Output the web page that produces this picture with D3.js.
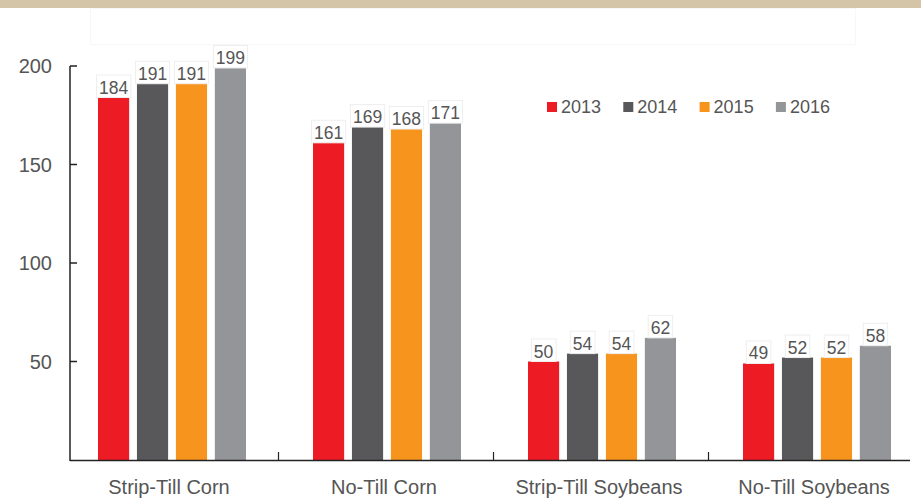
<!DOCTYPE html>
<html>
<head>
<meta charset="utf-8">
<script src="https://cdn.jsdelivr.net/npm/d3@7"></script>
<style>
  html, body { margin: 0; padding: 0; background: #fff; }
  #chart { width: 921px; height: 498px; }
</style>
</head>
<body>
<div id="chart"></div>
<script>
// yield data (bu/acre)
const categories = ['Strip-Till Corn', 'No-Till Corn', 'Strip-Till Soybeans', 'No-Till Soybeans'];
const years = ['2013', '2014', '2015', '2016'];
const yield2013 = [184, 161, 50, 49];
const yield2014 = [191, 169, 54, 52];
const yield2015 = [191, 168, 54, 52];
const yield2016 = [199, 171, 62, 58];
const yTicks = [50, 100, 150, 200];
const colors = ['#ed1c24', '#58585a', '#f7941d', '#939598'];

const seriesValues = [yield2013, yield2014, yield2015, yield2016];

const WIDTH = 921;
const HEIGHT = 498;
const FONT = '"Liberation Sans", Arial, Helvetica, sans-serif';
const TEXT_COLOR = '#555';

const svg = d3
  .select('#chart')
  .append('svg')
  .attr('width', WIDTH)
  .attr('height', HEIGHT);

// top band
svg.append('rect').attr('x', 0).attr('y', 0).attr('width', WIDTH).attr('height', 8).attr('fill', '#d4c5a8');
svg
  .append('rect')
  .attr('x', 90.5)
  .attr('y', 8.5)
  .attr('width', 765)
  .attr('height', 36)
  .attr('fill', 'none')
  .attr('stroke', '#f7f7f7');

const x = d3.scaleBand().domain(categories).range([64.5, 924.5]).paddingInner(0);
const xInner = d3
  .scaleBand()
  .domain(years)
  .range([33.5, x.bandwidth() - 33.5])
  .paddingInner(0.2);
const y = d3.scaleLinear().domain([0, 200]).range([460, 66]);

// bars
const groups = svg
  .append('g')
  .selectAll('g')
  .data(categories)
  .enter()
  .append('g')
  .attr('transform', (d) => 'translate(' + x(d) + ',0)');

groups
  .selectAll('rect')
  .data((d, i) => years.map((yr, j) => ({ year: yr, value: seriesValues[j][i], color: colors[j] })))
  .enter()
  .append('rect')
  .attr('x', (d) => xInner(d.year))
  .attr('y', (d) => y(d.value))
  .attr('width', xInner.bandwidth())
  .attr('height', (d) => y(0) - y(d.value))
  .attr('fill', (d) => d.color);

// value labels with faint boxes
groups.each(function (cat, i) {
  const g = d3.select(this);
  years.forEach((yr, j) => {
    const v = seriesValues[j][i];
    const cx = xInner(yr) + xInner.bandwidth() / 2;
    const t = g
      .append('text')
      .attr('x', cx)
      .attr('y', y(v) - 4)
      .attr('text-anchor', 'middle')
      .attr('font-family', FONT)
      .attr('font-size', 17.5)
      .attr('fill', TEXT_COLOR)
      .text(v);
    const b = t.node().getBBox();
    g.insert('rect', 'text')
      .attr('x', b.x - 2.5)
      .attr('y', b.y - 2.5)
      .attr('width', b.width + 5)
      .attr('height', y(v) - b.y + 2.5)
      .attr('fill', 'none')
      .attr('stroke', '#eeeeee')
      .attr('stroke-width', 1);
  });
});

// y axis
const axisColor = '#222';
svg
  .append('line')
  .attr('x1', 70)
  .attr('x2', 70)
  .attr('y1', y(200))
  .attr('y2', y(0) + 1)
  .attr('stroke', axisColor)
  .attr('stroke-width', 1.5);

svg
  .append('g')
  .selectAll('line')
  .data(yTicks)
  .enter()
  .append('line')
  .attr('x1', 70)
  .attr('x2', 77)
  .attr('y1', (d) => y(d))
  .attr('y2', (d) => y(d))
  .attr('stroke', axisColor)
  .attr('stroke-width', 1.5);

svg
  .append('g')
  .selectAll('text')
  .data(yTicks)
  .enter()
  .append('text')
  .attr('x', 52)
  .attr('y', (d) => y(d) + 7)
  .attr('text-anchor', 'end')
  .attr('font-family', FONT)
  .attr('font-size', 20)
  .attr('fill', TEXT_COLOR)
  .text((d) => d);

// x axis
svg
  .append('line')
  .attr('x1', 70)
  .attr('x2', 910)
  .attr('y1', y(0) + 0.5)
  .attr('y2', y(0) + 0.5)
  .attr('stroke', axisColor)
  .attr('stroke-width', 1.5);

svg
  .append('g')
  .selectAll('line')
  .data(categories.slice(1))
  .enter()
  .append('line')
  .attr('x1', (d) => x(d) - 1)
  .attr('x2', (d) => x(d) - 1)
  .attr('y1', y(0) - 8)
  .attr('y2', y(0))
  .attr('stroke', axisColor)
  .attr('stroke-width', 1.2);

svg
  .append('g')
  .selectAll('text')
  .data(categories)
  .enter()
  .append('text')
  .attr('x', (d) => x(d) + x.bandwidth() / 2 - 3)
  .attr('y', 494)
  .attr('text-anchor', 'middle')
  .attr('font-family', FONT)
  .attr('font-size', 20)
  .attr('fill', TEXT_COLOR)
  .text((d) => d);

// legend
const legend = svg
  .append('g')
  .selectAll('g')
  .data(years)
  .enter()
  .append('g')
  .attr('transform', (d, i) => 'translate(' + (547 + i * 76.3) + ',0)');

legend
  .append('rect')
  .attr('x', 0)
  .attr('y', 102)
  .attr('width', 10)
  .attr('height', 10)
  .attr('fill', (d, i) => colors[i]);

legend
  .append('text')
  .attr('x', 14)
  .attr('y', 113)
  .attr('font-family', FONT)
  .attr('font-size', 18)
  .attr('fill', TEXT_COLOR)
  .text((d) => d);
</script>
</body>
</html>
